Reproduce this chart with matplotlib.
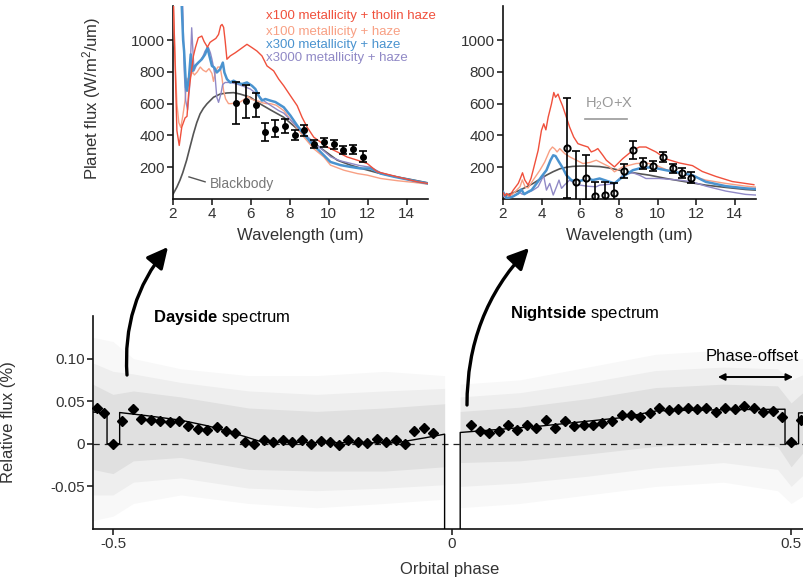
import numpy as np
import matplotlib
matplotlib.use("Agg")
import matplotlib.pyplot as plt
from matplotlib.patches import FancyArrowPatch

plt.rcParams['font.family'] = ['Liberation Sans', 'DejaVu Sans']
plt.rcParams['mathtext.fontset'] = 'custom'
plt.rcParams['mathtext.rm'] = 'Liberation Sans'
plt.rcParams['mathtext.bf'] = 'Liberation Sans:bold'
plt.rcParams['mathtext.it'] = 'Liberation Sans:italic'
plt.rcParams['axes.unicode_minus'] = False

# ---------------- data: dayside spectrum ----------------
day_wl = [5.25, 5.75, 6.25, 6.75, 7.25, 7.75, 8.25, 8.75, 9.25, 9.75, 10.25, 10.75, 11.25, 11.75]
day_flux = [605, 615, 590, 420, 443, 460, 402, 432, 345, 357, 343, 307, 312, 265]
day_err = [133, 103, 77, 58, 55, 44, 33, 33, 25, 28, 27, 24, 30, 35]

night_wl = [5.3, 5.78, 6.28, 6.76, 7.27, 7.77, 8.27, 8.75, 9.25, 9.78, 10.26, 10.78, 11.28, 11.76]
night_flux = [321, 108, 135, 17, 23, 35, 175, 308, 223, 208, 265, 192, 165, 135]
night_err = [312, 192, 144, 91, 85, 63, 45, 57, 33, 32, 33, 30, 30, 33]

# dayside models
d_red_wl = [2.03, 2.12, 2.2, 2.32, 2.45, 2.62, 2.72, 2.8, 2.92, 3.05, 3.15, 3.3, 3.48, 3.6, 3.77, 3.9, 4.0,
            4.2, 4.34, 4.45, 4.52, 4.6, 4.68, 4.77, 4.94, 5.2, 5.45, 5.8, 6.06, 6.31, 6.57, 6.83, 7.17, 7.43,
            7.69, 8.03, 8.38, 8.63, 8.89, 9.23, 9.58, 9.92, 10.44, 10.95, 11.47, 11.98, 12.5, 13.19, 13.87,
            14.56, 15.07]
d_red = [1210, 800, 430, 337, 452, 510, 520, 660, 780, 900, 952, 1014, 1025, 990, 955, 985, 994, 1010, 1035,
         1090, 1098, 1080, 994, 879, 900, 920, 942, 973, 952, 931, 900, 837, 806, 754, 712, 650, 587, 514, 452,
         389, 358, 327, 296, 264, 244, 223, 171, 150, 129, 108, 98]

d_sal_wl = [2.02, 2.1, 2.2, 2.3, 2.4, 2.5, 2.62, 2.72, 2.8, 2.9, 3.0, 3.1, 3.25, 3.4, 3.55, 3.7, 3.85, 4.0,
            4.08, 4.18, 4.3, 4.42, 4.52, 4.6, 4.7, 4.85, 5.0, 5.2, 5.45, 5.7, 5.85, 6.0, 6.2, 6.4, 6.6, 6.8,
            7.0, 7.3, 7.7, 8.0, 8.4, 8.72, 9.23, 9.75, 10.09, 10.78, 11.47, 11.98, 12.67, 13.53, 14.39, 15.07]
d_sal = [1210, 900, 600, 480, 450, 520, 620, 760, 720, 770, 800, 780, 800, 830, 810, 800, 820, 790, 740, 800,
         830, 830, 760, 680, 630, 600, 600, 605, 610, 630, 645, 630, 620, 615, 605, 600, 600, 590, 555, 505,
         440, 390, 316, 264, 213, 181, 160, 150, 129, 115, 104, 94]

d_blue_wl = [2.45, 2.52, 2.57, 2.67, 2.72, 2.82, 2.91, 3.01, 3.13, 3.3, 3.48, 3.65, 3.77, 3.87, 4.0, 4.12,
             4.25, 4.42, 4.56, 4.64, 4.77, 4.94, 5.11, 5.28, 5.54, 5.8, 6.06, 6.23, 6.4, 6.57, 6.74, 7.0, 7.26,
             7.69, 8.03, 8.38, 8.72, 9.06, 9.58, 10.09, 10.61, 11.12, 11.64, 12.15, 12.67, 13.36, 14.2, 15.07]
d_blue = [1210, 1000, 931, 702, 681, 764, 910, 806, 837, 858, 879, 910, 952, 900, 837, 827, 796, 816, 858,
          796, 754, 733, 744, 733, 723, 733, 712, 692, 650, 619, 629, 619, 610, 577, 525, 462, 410, 358, 296,
          233, 213, 202, 192, 192, 160, 140, 119, 98]

d_pur_wl = [2.5, 2.58, 2.65, 2.75, 2.85, 2.96, 3.08, 3.2, 3.39, 3.55, 3.65, 3.82, 3.92, 4.0, 4.08, 4.16, 4.25,
            4.34, 4.46, 4.55, 4.68, 4.94, 5.28, 5.6, 5.97, 6.3, 6.65, 7.0, 7.43, 7.69, 8.4, 9.06, 9.58, 10.1,
            10.6, 11.1, 11.6, 12.15, 12.67, 13.4, 14.2, 15.07]
d_pur = [1210, 800, 620, 560, 700, 1077, 806, 840, 868, 900, 931, 952, 920, 879, 830, 775, 640, 608, 660, 720,
         733, 733, 723, 710, 692, 660, 619, 590, 556, 540, 450, 375, 320, 265, 240, 225, 210, 200, 165, 140,
         118, 98]

d_bb_wl = [2.0, 2.2, 2.36, 2.5, 2.7, 2.88, 3.05, 3.22, 3.39, 3.56, 3.74, 4.08, 4.42, 4.77, 5.11, 5.45, 5.97,
           6.48, 7.0, 7.69, 8.38, 9.06, 9.75, 10.44, 11.12, 11.81, 12.5, 13.19, 14.2, 15.07]
d_bb = [30, 75, 119, 165, 244, 330, 410, 480, 535, 570, 598, 640, 660, 667, 669, 660, 640, 598, 561, 514, 441,
        368, 306, 244, 213, 188, 165, 146, 123, 102]

# nightside models
n_red_wl = [2.0, 2.1, 2.19, 2.35, 2.53, 2.79, 2.9, 3.01, 3.13, 3.3, 3.45, 3.56, 3.82, 3.99, 4.11, 4.22, 4.34,
            4.51, 4.63, 4.72, 4.85, 4.95, 5.08, 5.28, 5.45, 5.66, 5.88, 6.14, 6.4, 6.57, 6.75, 6.91, 7.17, 7.35,
            7.77, 8.2, 8.72, 9.06, 9.4, 9.92, 10.44, 11.12, 11.81, 12.32, 13.02, 13.87, 14.99]
n_red = [40, 20, 35, 20, 56, 98, 130, 165, 119, 88, 130, 181, 306, 431, 473, 435, 515, 598, 670, 640, 660, 625,
         587, 515, 452, 390, 348, 337, 327, 296, 305, 317, 275, 244, 202, 254, 306, 327, 327, 296, 252, 227,
         210, 173, 142, 110, 90]

n_sal_wl = [2.0, 2.19, 2.5, 2.88, 3.0, 3.15, 3.3, 3.56, 3.91, 4.16, 4.42, 4.56, 4.68, 4.8, 4.94, 5.2, 5.5, 5.8,
            6.14, 6.5, 6.83, 7.17, 7.52, 7.77, 8.2, 8.89, 9.4, 9.92, 10.44, 11.12, 11.81, 12.5, 13.53, 14.56,
            15.07]
n_sal = [30, 10, 30, 77, 120, 75, 70, 119, 181, 233, 306, 327, 315, 296, 317, 285, 262, 244, 223, 230, 244,
         223, 202, 171, 202, 223, 227, 213, 185, 160, 144, 119, 98, 81, 75]

n_blue_wl = [2.0, 2.1, 2.19, 2.5, 2.79, 2.95, 3.1, 3.3, 3.48, 3.74, 3.99, 4.25, 4.46, 4.6, 4.72, 4.9, 5.11,
             5.28, 5.54, 5.8, 6.14, 6.4, 6.65, 7.0, 7.52, 7.77, 8.2, 8.72, 9.23, 9.75, 10.44, 11.12, 11.81,
             12.5, 13.53, 14.56, 15.07]
n_blue = [45, 25, 4, 15, 35, 60, 30, 45, 56, 98, 140, 181, 244, 275, 270, 233, 192, 150, 119, 108, 119, 129,
          119, 129, 108, 98, 140, 181, 198, 198, 181, 165, 150, 108, 81, 67, 63]

n_pur_wl = [2.0, 2.19, 2.5, 2.88, 3.0, 3.2, 3.56, 3.82, 3.99, 4.1, 4.25, 4.42, 4.6, 4.77, 4.9, 5.03, 5.2, 5.45,
            5.7, 6.0, 6.4, 6.83, 7.0, 7.77, 8.2, 8.72, 9.06, 9.4, 10.09, 11.12, 11.81, 12.5, 13.53, 14.56, 15.07]
n_pur = [20, 5, 15, 40, 30, 35, 56, 77, 119, 150, 56, 98, 25, 77, 119, 67, 90, 119, 100, 87, 80, 77, 87, 96,
         150, 165, 150, 129, 129, 119, 108, 81, 50, 29, 25]

n_bb_wl = [2.0, 2.19, 2.5, 2.88, 3.2, 3.56, 3.9, 4.25, 4.6, 4.94, 5.3, 5.6, 5.97, 6.3, 6.65, 7.0, 7.5, 8.03,
           8.5, 9.0, 9.58, 10.44, 11.47, 12.5, 13.53, 14.56, 15.07]
n_bb = [15, 25, 38, 56, 75, 98, 124, 150, 172, 190, 200, 205, 207, 208, 206, 204, 195, 181, 170, 160, 150, 129,
        108, 87, 73, 60, 56]

# ---------------- data: phase curve ----------------
bin_phase_day = [-0.523, -0.513, -0.5, -0.486, -0.471, -0.459, -0.444, -0.431, -0.416, -0.403, -0.389, -0.375,
                 -0.361, -0.347, -0.333, -0.320, -0.305, -0.292, -0.278, -0.264, -0.250, -0.236, -0.222, -0.208,
                 -0.194, -0.180, -0.167, -0.153, -0.139, -0.125, -0.111, -0.097, -0.083, -0.069, -0.056, -0.042,
                 -0.028]
bin_flux_day = [0.0418, 0.0363, -0.0008, 0.0266, 0.0406, 0.0293, 0.0285, 0.0273, 0.0258, 0.0262, 0.0211, 0.0168,
                0.0160, 0.0199, 0.0148, 0.0129, 0.0023, -0.0008, 0.0047, 0.0016, 0.0047, 0.0016, 0.0039, -0.0004,
                0.0031, 0.0016, -0.0012, 0.0039, 0.0023, 0.0012, 0.0059, 0.0016, 0.0047, -0.0008, 0.0148, 0.0191,
                0.0129]
bin_phase_night = [0.0272, 0.041, 0.0548, 0.0687, 0.0825, 0.0963, 0.1107, 0.1245, 0.1383, 0.1522, 0.166, 0.1803,
                   0.1942, 0.208, 0.2218, 0.2357, 0.25, 0.2638, 0.2777, 0.2915, 0.3053, 0.3197, 0.3335, 0.3473,
                   0.3612, 0.375, 0.3893, 0.4032, 0.417, 0.4308, 0.4452, 0.459, 0.4728, 0.4867, 0.5005, 0.5148]
bin_flux_night = [0.0219, 0.0148, 0.0121, 0.0145, 0.0223, 0.0160, 0.0219, 0.0188, 0.0277, 0.0180, 0.0262, 0.0211,
                  0.0223, 0.0215, 0.0246, 0.0262, 0.0336, 0.0340, 0.0313, 0.0359, 0.0426, 0.0395, 0.0406, 0.0418,
                  0.0414, 0.0426, 0.0379, 0.0418, 0.0410, 0.0449, 0.0426, 0.0379, 0.0383, 0.0316, 0.0023, 0.0277]

model_phase_day = [-0.53, -0.5088, -0.5088, -0.4902, -0.4902, -0.45, -0.40, -0.36, -0.323, -0.281, -0.20, -0.12,
                   -0.082, -0.04, -0.011, -0.011]
model_flux_day = [0.0372, 0.0365, 0.0, 0.0, 0.0367, 0.0330, 0.0277, 0.0210, 0.0129, 0.0023, 0.0015, 0.0012,
                  0.0012, 0.0070, 0.0113, -1.0]
model_phase_night = [0.012, 0.012, 0.129, 0.248, 0.302, 0.40, 0.491, 0.491, 0.511, 0.511, 0.53]
model_flux_night = [-1.0, 0.0133, 0.0207, 0.0305, 0.0387, 0.0400, 0.0406, 0.0, 0.0, 0.0363, 0.0363]

# scatter-cloud envelopes (outer = sparse points, mid, inner = dense core)
cloud_phase_day = [-0.53, -0.50, -0.47, -0.40, -0.30, -0.20, -0.10, -0.011]
cloud_out_hi_day = [0.125, 0.12, 0.10, 0.088, 0.08, 0.08, 0.085, 0.08]
cloud_out_lo_day = [-0.09, -0.085, -0.07, -0.06, -0.07, -0.075, -0.07, -0.065]
cloud_mid_hi_day = [0.095, 0.085, 0.082, 0.072, 0.062, 0.058, 0.062, 0.065]
cloud_mid_lo_day = [-0.06, -0.06, -0.045, -0.040, -0.052, -0.055, -0.052, -0.048]
cloud_in_hi_day = [0.070, 0.058, 0.062, 0.055, 0.042, 0.038, 0.042, 0.047]
cloud_in_lo_day = [-0.030, -0.035, -0.020, -0.016, -0.030, -0.032, -0.032, -0.027]
cloud_phase_night = [0.012, 0.10, 0.20, 0.30, 0.40, 0.48, 0.50, 0.52]
cloud_out_hi_night = [0.070, 0.075, 0.090, 0.105, 0.110, 0.110, 0.100, 0.100]
cloud_out_lo_night = [-0.075, -0.070, -0.060, -0.050, -0.045, -0.055, -0.070, -0.060]
cloud_mid_hi_night = [0.055, 0.060, 0.072, 0.086, 0.090, 0.088, 0.075, 0.082]
cloud_mid_lo_night = [-0.050, -0.046, -0.038, -0.028, -0.022, -0.030, -0.050, -0.035]
cloud_in_hi_night = [0.038, 0.043, 0.053, 0.066, 0.070, 0.068, 0.048, 0.062]
cloud_in_lo_night = [-0.022, -0.020, -0.012, -0.003, 0.002, -0.003, -0.027, -0.008]

RED, SAL, BLUE, PUR, BB = '#F0503C', '#F8A084', '#4A93CF', '#9089C6', '#555555'
TXT = '#333333'

W, H = 804, 583
fig = plt.figure(figsize=(W / 100, H / 100), dpi=100)


def frac(x0, y0, x1, y1):
    return [x0 / W, 1 - y1 / H, (x1 - x0) / W, (y1 - y0) / H]


def style(ax):
    for s in ['top', 'right']:
        ax.spines[s].set_visible(False)
    for s in ['left', 'bottom']:
        ax.spines[s].set_linewidth(1.2)
        ax.spines[s].set_color('#111111')
    ax.tick_params(direction='out', length=4, width=1.1, color='#111111', labelsize=11, labelcolor=TXT, pad=2)


ax1 = fig.add_axes(frac(173, 6, 428, 199))
ax2 = fig.add_axes(frac(503, 6, 756, 199))
for ax in (ax1, ax2):
    style(ax)
    ax.set_xlim(2, 15.1)
    ax.set_ylim(0, 1214)
    ax.set_xticks([2, 4, 6, 8, 10, 12, 14])
    ax.set_yticks([200, 400, 600, 800, 1000])
    ax.set_xlabel('Wavelength (um)', fontsize=12, color=TXT)
    ax.xaxis.set_label_coords(0.5, -0.15)

ax1.plot(d_bb_wl, d_bb, color=BB, lw=1.2, zorder=2)
ax1.plot(d_sal_wl, d_sal, color=SAL, lw=1.0, zorder=3)
ax1.plot(d_pur_wl, d_pur, color=PUR, lw=1.0, zorder=3)
ax1.plot(d_blue_wl, d_blue, color=BLUE, lw=1.8, zorder=3)
ax1.plot(d_red_wl, d_red, color=RED, lw=1.0, zorder=4)
ax1.errorbar(day_wl, day_flux, yerr=day_err, fmt='o', ms=4, color='black', ecolor='black',
             elinewidth=1.2, capsize=3, capthick=1.2, zorder=6)
ax1.set_ylabel('Planet flux (W/m$^2$/um)', fontsize=12, color=TXT)
ax1.yaxis.set_label_coords(-0.275, 0.52)

ax1.plot([2.82, 3.65], [139, 108], color=BB, lw=1.0)
ax1.text(3.9, 94, 'Blackbody', color='#777777', fontsize=10, va='center', ha='left')
leg = [('x100 metallicity + tholin haze', RED, 1150), ('x100 metallicity + haze', SAL, 1050),
       ('x300 metallicity + haze', BLUE, 969), ('x3000 metallicity + haze', PUR, 887)]
for t, c, yv in leg:
    ax1.text(6.79, yv, t, color=c, fontsize=9.5, va='center', ha='left', clip_on=False)

ax2.plot(n_bb_wl, n_bb, color=BB, lw=1.2, zorder=2)
ax2.plot(n_sal_wl, n_sal, color=SAL, lw=1.0, zorder=3)
ax2.plot(n_pur_wl, n_pur, color=PUR, lw=1.0, zorder=3)
ax2.plot(n_blue_wl, n_blue, color=BLUE, lw=1.8, zorder=3)
ax2.plot(n_red_wl, n_red, color=RED, lw=1.0, zorder=4)
ax2.errorbar(night_wl, night_flux, yerr=night_err, fmt='none', ecolor='black',
             elinewidth=1.2, capsize=3, capthick=1.2, zorder=6)
ax2.plot(night_wl, night_flux, 'o', ms=4.5, mfc='white', mec='black', mew=1.4, zorder=5)
ax2.plot([6.23, 8.44], [506, 506], color='#999999', lw=1.2)
ax2.text(6.23, 600, 'H$_2$O+X', color='#999999', fontsize=10.5, va='center', ha='left')

# ---------------- phase curve ----------------
ax3 = fig.add_axes(frac(93, 316, 804, 529))
style(ax3)
ax3.set_xlim(-0.5295, 0.519)
ax3.set_ylim(-0.1, 0.15)
ax3.set_xticks([-0.5, 0, 0.5])
ax3.set_xticklabels(['-0.5', '0', '0.5'])
ax3.set_yticks([-0.05, 0, 0.05, 0.10])
ax3.set_yticklabels(['-0.05', '0', '0.05', '0.10'])

clouds = [(cloud_phase_day, cloud_out_hi_day, cloud_out_lo_day, cloud_mid_hi_day, cloud_mid_lo_day,
           cloud_in_hi_day, cloud_in_lo_day),
          (cloud_phase_night, cloud_out_hi_night, cloud_out_lo_night, cloud_mid_hi_night, cloud_mid_lo_night,
           cloud_in_hi_night, cloud_in_lo_night)]
for ph, ohi, olo, mhi, mlo, ihi, ilo in clouds:
    ax3.fill_between(ph, olo, ohi, color='#f8f8f8', lw=0, zorder=1)
    ax3.fill_between(ph, mlo, mhi, color='#eeeeee', lw=0, zorder=1)
    ax3.fill_between(ph, ilo, ihi, color='#e0e0e0', lw=0, zorder=1)

ax3.axhline(0, color='#222222', lw=0.9, ls=(0, (5, 4)), zorder=2)
ax3.plot(model_phase_day, model_flux_day, color='black', lw=1.0, zorder=3)
ax3.plot(model_phase_night, model_flux_night, color='black', lw=1.0, zorder=3)
ax3.plot(bin_phase_day, bin_flux_day, 'D', ms=5.2, color='black', zorder=4, clip_on=False)
ax3.plot(bin_phase_night, bin_flux_night, 'D', ms=5.2, color='black', zorder=4, clip_on=False)

ax3.set_ylabel('Relative flux (%)', fontsize=12, color=TXT)
ax3.yaxis.set_label_coords(-0.108, 0.5)
ax3.set_xlabel('Orbital phase', fontsize=12, color=TXT)
ax3.xaxis.set_label_coords(0.502, -0.155)

ax3.text(-0.441, 0.1477, r'$\mathbf{Dayside}$ spectrum', fontsize=12, color='black', va='center', ha='left')
ax3.text(0.0855, 0.1535, r'$\mathbf{Nightside}$ spectrum', fontsize=12, color='black', va='center', ha='left',
         clip_on=False)
ax3.text(0.442, 0.103, 'Phase-offset', fontsize=12, color='black', va='center', ha='center')
ax3.annotate('', xy=(0.503, 0.0784), xytext=(0.392, 0.0784),
             arrowprops=dict(arrowstyle='<|-|>', color='black', lw=1.4, mutation_scale=10,
                             shrinkA=0, shrinkB=0))

for (x0, y0), (x1, y1) in [((127, 375), (168, 247)), ((467, 405), (529, 248))]:
    arr = FancyArrowPatch((x0, H - y0), (x1, H - y1), transform=None,
                          connectionstyle='arc3,rad=-0.2',
                          arrowstyle='-|>,head_length=0.9,head_width=0.45', mutation_scale=14,
                          color='black', lw=2.4, shrinkA=0, shrinkB=0)
    fig.patches.append(arr)

fig.savefig('out.png', dpi=100)
